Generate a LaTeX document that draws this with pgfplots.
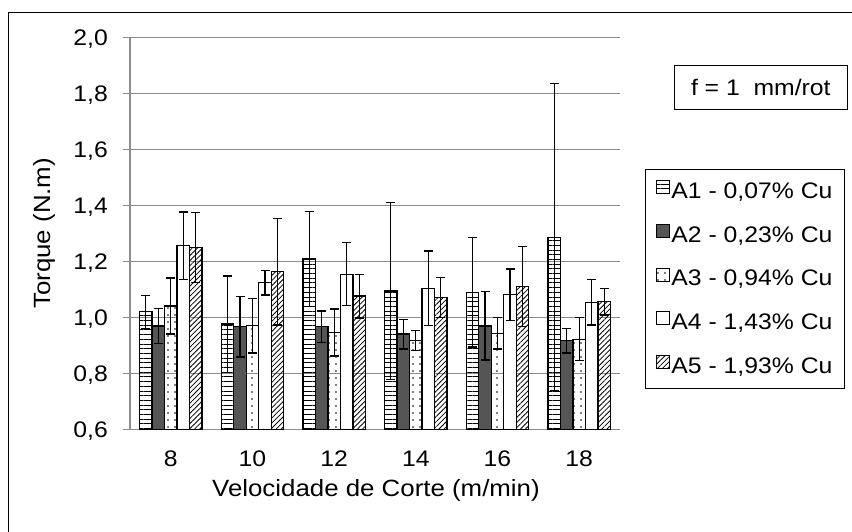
\documentclass[border=0pt]{standalone}
\usepackage{pgfplots}
\pgfplotsset{compat=1.18}
\usepackage{pgfplotstable}
\usetikzlibrary{patterns.meta}
\usepackage{fontspec}
\setmainfont{Liberation Sans}[FakeStretch=1.1]
\definecolor{darkbar}{RGB}{85,85,85}
\definecolor{gridgray}{RGB}{140,140,140}

\pgfplotstableread{
x A1 e1 A2 e2 A3 e3 A4 e4 A5 e5
0 1.020 0.059 0.969 0.063 1.040 0.100 1.256 0.120 1.249 0.125
1 0.976 0.172 0.966 0.108 0.970 0.098 1.124 0.044 1.163 0.190
2 1.208 0.169 0.966 0.056 0.946 0.084 1.154 0.112 1.076 0.078
3 1.094 0.315 0.940 0.053 0.917 0.035 1.104 0.133 1.071 0.071
4 1.089 0.195 0.969 0.122 0.943 0.056 1.080 0.092 1.109 0.143
5 1.286 0.548 0.917 0.044 0.922 0.077 1.054 0.082 1.056 0.048
}\data

\newcommand{\tickfont}{\fontsize{22.5pt}{27pt}\selectfont}
\newcommand{\labfont}{\fontsize{23.5pt}{28pt}\selectfont}

\begin{document}
\begin{tikzpicture}
\useasboundingbox (0,0) rectangle (852pt,532pt);
\fill[white] (0,0) rectangle (852pt,532pt);
\draw[line width=1.3pt,black] (8.5pt,-5pt) -- (8.5pt,519.3pt) -- (860pt,519.3pt);
\begin{axis}[
  at={(130pt,102.7pt)}, anchor=south west,
  scale only axis, width=490pt, height=392pt,
  xmin=-0.5, xmax=5.5, ymin=0.6, ymax=2.0,
  ybar=0pt, bar width=12.5pt,
  xtick={0,1,2,3,4,5}, xticklabels={8,10,12,14,16,18},
  ytick={0.6,0.8,1.0,1.2,1.4,1.6,1.8,2.0},
  /pgf/number format/.cd, fixed, fixed zerofill, precision=1, use comma, assume math mode=true,
  /pgfplots/.cd,
  axis x line*=bottom, axis y line*=left,
  axis line style={gridgray, line width=1.2pt, -},
  ymajorgrids, grid style={gridgray, line width=1.2pt},
  tick align=outside, major tick length=7pt,
  xtick style={draw=none},
  ytick style={gridgray, line width=1.2pt},
  tick label style={font=\tickfont, inner sep=0pt},
  yticklabel style={anchor=base east, xshift=-15pt, yshift=-8pt},
  xticklabel style={anchor=base, yshift=-30.4pt},
  xlabel={Velocidade de Corte (m/min)},
  ylabel={Torque (N.m)},
  every axis x label/.style={at={(axis description cs:0.502,-0.172)}, anchor=base, font=\labfont},
  every axis y label/.style={at={(axis description cs:-0.1755,0.5)}, rotate=90, anchor=center, font=\labfont},
  legend style={at={(axis description cs:1.051,0.664)}, anchor=north west,
    draw=black, line width=1.2pt, inner sep=10pt, row sep=20.5pt,
    font=\tickfont,
    nodes={inner xsep=2pt, inner ysep=0pt, text height=16pt, text depth=5pt}},
  legend cell align=left,
  legend image code/.code={\draw[#1, line width=0.9pt] (0pt,-0.5pt) rectangle (13pt,12.5pt);},
  error bars/y dir=both, error bars/y explicit,
  error bars/error bar style={black, line width=1.3pt},
  error bars/error mark options={black, rotate=90, mark size=4.5pt, line width=1.3pt},
]
\addplot[draw=black, line width=1.2pt, pattern={Lines[angle=0,distance=4.7pt,line width=0.9pt]}]
  table[x=x, y=A1, y error=e1] {\data};
\addlegendentry{A1 - 0,07\% Cu}
\addplot[draw=black, line width=1.2pt, fill=darkbar]
  table[x=x, y=A2, y error=e2] {\data};
\addlegendentry{A2 - 0,23\% Cu}
\addplot[draw=black, line width=1.2pt, pattern={Dots[distance=7pt,radius=0.8pt]}]
  table[x=x, y=A3, y error=e3] {\data};
\addlegendentry{A3 - 0,94\% Cu}
\addplot[draw=black, line width=1.2pt, fill=white]
  table[x=x, y=A4, y error=e4] {\data};
\addlegendentry{A4 - 1,43\% Cu}
\addplot[draw=black, line width=1.2pt, pattern={Lines[angle=45,distance=3.6pt,line width=0.8pt]}]
  table[x=x, y=A5, y error=e5] {\data};
\addlegendentry{A5 - 1,93\% Cu}
\end{axis}
\node[draw=black, line width=1.2pt, minimum width=173pt, minimum height=44pt, inner sep=0pt, font=\tickfont]
  at (760.8pt,444.8pt) {f = 1~~mm/rot};
\end{tikzpicture}
\end{document}
